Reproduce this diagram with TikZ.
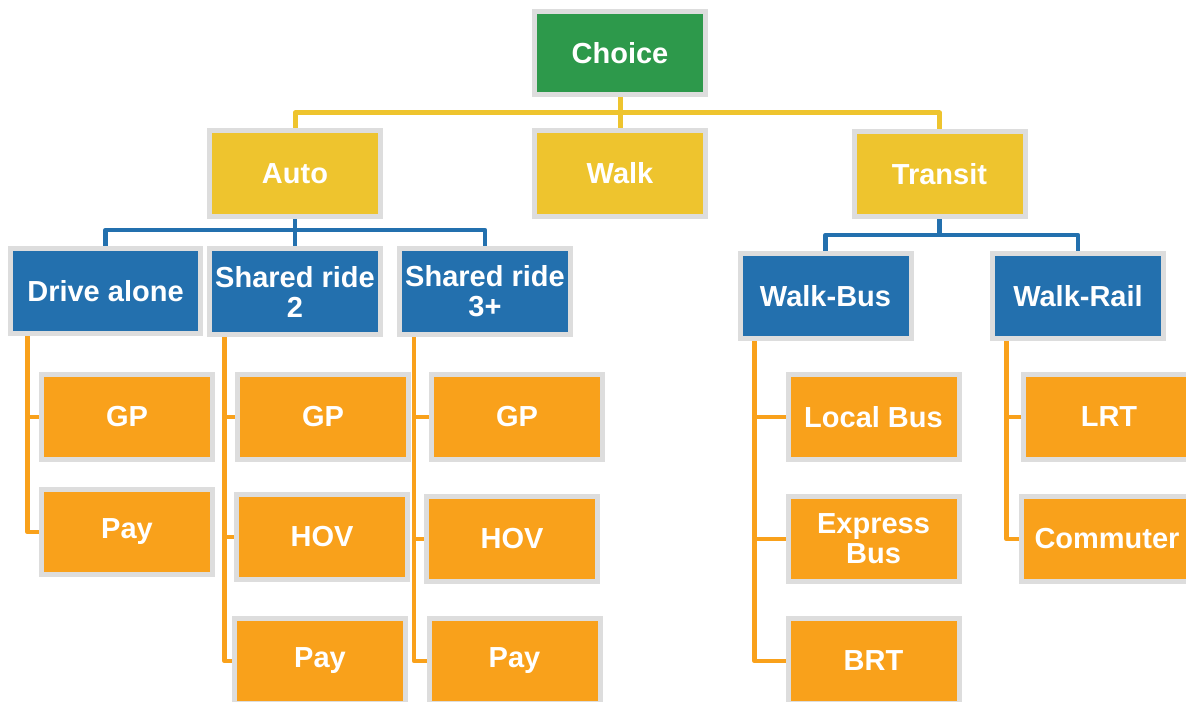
\documentclass[tikz,border=0pt]{standalone}
\usepackage{fontspec}
\setmainfont{Liberation Sans}
\usetikzlibrary{backgrounds}

\definecolor{choicegreen}{HTML}{2D994B}
\definecolor{nestyellow}{HTML}{EEC42E}
\definecolor{nestblue}{HTML}{2370AE}
\definecolor{nestorange}{HTML}{F9A11B}
\definecolor{boxgray}{HTML}{DDDDDD}

\begin{document}
\begin{tikzpicture}[x=1bp,y=-1bp,
		box/.style={draw=boxgray,line width=5bp,text=white,inner sep=0pt,
			font=\fontsize{29bp}{30bp}\selectfont\bfseries,align=center,
			minimum width=171bp,minimum height=85bp},
		choicebox/.style={box,fill=choicegreen,minimum height=83bp},
		nestbox/.style={box,fill=nestyellow},
		modebox/.style={box,fill=nestblue},
		leafbox/.style={box,fill=nestorange},
		yline/.style={draw=nestyellow,line width=5bp,line join=round},
		bline/.style={draw=nestblue,line width=4.5bp,line join=round},
		oline/.style={draw=nestorange,line width=4.5bp,line join=round}]
		\useasboundingbox (0,0) rectangle (1186,702);
		% top levels
		\node [choicebox] (choice) at (620,53) {Choice};
		\node [nestbox] (auto) at (295,173.5) {Auto};
		\node [nestbox] (walk) at (620,173.5) {Walk};
		\node [nestbox] (transit) at (939.5,174) {Transit};
		\node [modebox,minimum width=190bp] (drive) at (105.5,291) {Drive alone};
		\node [modebox] (sr2) at (295,291.5) {Shared ride\\2};
		\node [modebox] (sr3) at (485,291.5) {Shared ride\\3+};
		\node [modebox] (wbus) at (825.5,296) {Walk-Bus};
		\node [modebox] (wrail) at (1078,296) {Walk-Rail};
		% leaves
		\node [leafbox] (dagp) at (127,417) {GP};
		\node [leafbox] (dapay) at (127,532) {Pay};
		\node [leafbox] (s2gp) at (323,417) {GP};
		\node [leafbox] (s2hov) at (322,537) {HOV};
		\node [leafbox] (s2pay) at (320,661) {Pay};
		\node [leafbox] (s3gp) at (517,417) {GP};
		\node [leafbox] (s3hov) at (512,539) {HOV};
		\node [leafbox] (s3pay) at (514.5,661) {Pay};
		\node [leafbox] (lbus) at (873.5,417) {Local Bus};
		\node [leafbox] (xbus) at (873.5,539) {Express\\Bus};
		\node [leafbox] (brt) at (873.5,661) {BRT};
		\node [leafbox] (lrt) at (1109,417) {LRT};
		\node [leafbox] (comm) at (1107,539) {Commuter};
		\coordinate (ytee) at (620,113);
		\coordinate (atee) at (295,230);
		\coordinate (ttee) at (939.5,235);
		\begin{scope}[on background layer]
			\draw [yline] (choice) -- (walk);
			\draw [yline] (auto) |- (ytee) -| (transit);
			\draw [bline] (auto) -- (sr2);
			\draw [bline] (drive) |- (atee) -| (sr3);
			\draw [bline] (transit) -- (ttee);
			\draw [bline] (wbus) |- (ttee) -| (wrail);
			\draw [oline] ([xshift=19.5bp]drive.west) |- (dagp);
			\draw [oline] ([xshift=19.5bp]drive.west) |- (dapay);
			\draw [oline] ([xshift=17.5bp]sr2.west) |- (s2gp);
			\draw [oline] ([xshift=17.5bp]sr2.west) |- (s2hov);
			\draw [oline] ([xshift=17.5bp]sr2.west) |- (s2pay);
			\draw [oline] ([xshift=17bp]sr3.west) |- (s3gp);
			\draw [oline] ([xshift=17bp]sr3.west) |- (s3hov);
			\draw [oline] ([xshift=17bp]sr3.west) |- (s3pay);
			\draw [oline] ([xshift=17bp]wbus.west) |- (lbus);
			\draw [oline] ([xshift=17bp]wbus.west) |- (xbus);
			\draw [oline] ([xshift=17bp]wbus.west) |- (brt);
			\draw [oline] ([xshift=16.5bp]wrail.west) |- (lrt);
			\draw [oline] ([xshift=16.5bp]wrail.west) |- (comm);
		\end{scope}
	\end{tikzpicture}
\end{document}
